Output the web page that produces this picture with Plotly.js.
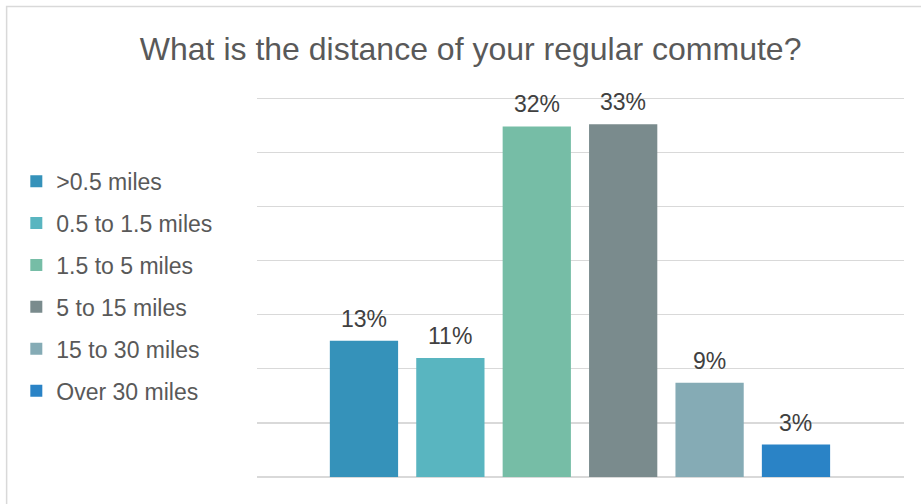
<!DOCTYPE html>
<html>
<head>
<meta charset="utf-8">
<script src="https://cdn.plot.ly/plotly-3.0.1.min.js"></script>
<style>html,body{margin:0;padding:0;background:#fff;}#chart{width:921px;height:504px;}</style>
</head>
<body>
<div id="chart"></div>
<script>
const categories = [">0.5 miles", "0.5 to 1.5 miles", "1.5 to 5 miles", "5 to 15 miles", "15 to 30 miles", "Over 30 miles"];
const values = [12.6, 11.0, 32.4, 32.6, 8.7, 3.0];
const colors = ["#3592BA", "#59B5C0", "#76BDA6", "#7A8B8D", "#85ABB5", "#2A83C6"];

const traces = categories.map((c, i) => ({
  type: 'bar',
  name: c,
  x: [i],
  y: [values[i]],
  width: 0.79,
  marker: {color: colors[i]},
  legendgroup: 'g' + i,
  hoverinfo: 'none'
}));

const annotations = categories.map((c, i) => ({
  x: i, y: values[i], xref: 'x', yref: 'y',
  text: Math.round(values[i]) + '%',
  showarrow: false, yanchor: 'bottom', yshift: 7,
  font: {family: 'Liberation Sans, Arial, sans-serif', size: 23, color: '#404040'}
}));

const layout = {
  width: 921, height: 504,
  margin: {l: 257, r: 17, t: 95, b: 27},
  paper_bgcolor: '#ffffff', plot_bgcolor: '#ffffff',
  barmode: 'overlay',
  title: {
    text: 'What is the distance of your regular commute?',
    x: 0.511, xanchor: 'center', y: 0.903, yanchor: 'middle',
    font: {family: 'Liberation Sans, Arial, sans-serif', size: 32, color: '#595959'}
  },
  xaxis: {range: [-1.238, 6.25], showgrid: false, zeroline: false, showticklabels: false, ticks: '', showline: false, fixedrange: true},
  yaxis: {range: [0, 35.3], dtick: 5, showgrid: true, gridcolor: '#d9d9d9', gridwidth: 1.3, zeroline: true, zerolinecolor: '#d9d9d9', zerolinewidth: 1.3, showticklabels: false, ticks: '', fixedrange: true},
  showlegend: true,
  legend: {
    x: -0.372, xanchor: 'left', y: 0.8306, yanchor: 'top',
    traceorder: 'grouped', tracegroupgap: 9,
    bgcolor: 'rgba(0,0,0,0)',
    font: {family: 'Liberation Sans, Arial, sans-serif', size: 23, color: '#595959'},
    itemwidth: 30
  },
  annotations: annotations,
  shapes: [{
    type: 'rect', xref: 'paper', yref: 'paper',
    x0: -0.387, x1: 1.05, y0: -0.1, y1: 1.2317,
    line: {color: '#d9d9d9', width: 1.5}, fillcolor: 'rgba(0,0,0,0)', layer: 'below'
  }]
};

Plotly.newPlot('chart', traces, layout, {displayModeBar: false, staticPlot: true});
</script>
</body>
</html>
